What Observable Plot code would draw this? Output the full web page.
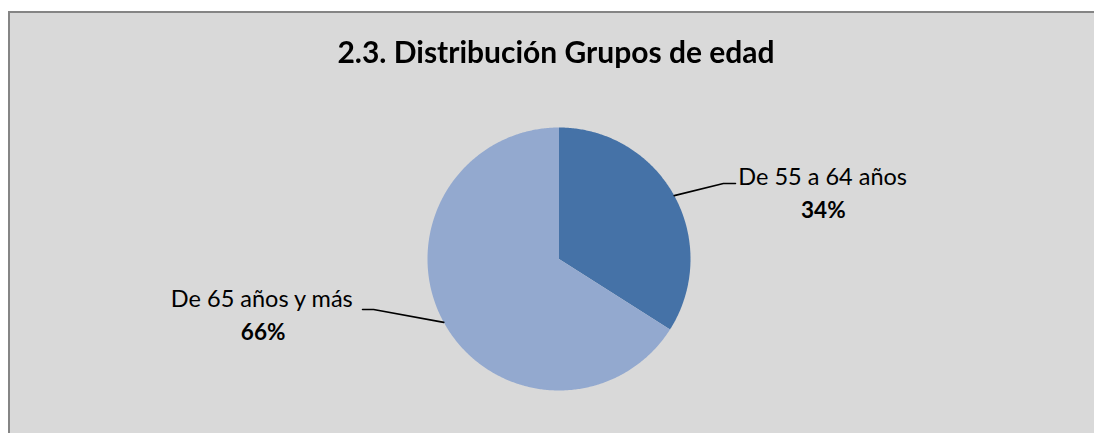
<!DOCTYPE html>
<html>
<head>
<meta charset="utf-8">
<script src="https://cdn.jsdelivr.net/npm/d3@7"></script>
<script src="https://cdn.jsdelivr.net/npm/@observablehq/plot@0.6"></script>
<style>
  html, body { margin: 0; padding: 0; background: #ffffff; overflow: hidden; scrollbar-width: none; }
  ::-webkit-scrollbar { display: none; width: 0; height: 0; }
  #frame { position: fixed; left: 8px; top: 11px; right: -20px; bottom: -20px; background: #d9d9d9;
           border-top: 2px solid #858585; border-left: 2px solid #858585; }
  #title { position: fixed; left: 0; width: 1112px; top: 33px; text-align: center;
           font-family: Lato, "Open Sans", sans-serif; font-weight: bold; font-size: 30px; color: #000; z-index: 2; }
  #chart { position: fixed; left: 0; top: 0; z-index: 1; }
</style>
</head>
<body>
<div id="frame"></div>
<div id="title">2.3. Distribución Grupos de edad</div>
<div id="chart"></div>
<script>
// ---- data ----
const categories = ["De 55 a 64 años", "De 65 años y más"];
const shares = [34, 66];
const percentLabels = ["34%", "66%"];
const colors = ["#4572A7", "#93A9CF"];

// ---- layout (label offsets in pie-radius units) ----
const labelLayout = [
  {elbow: [1.25, 0.574], end: 1.342, name: [2.005, 0.62], pct: [2.01, 0.37]},
  {elbow: [-1.41, -0.384], end: -1.494, name: [-2.26, -0.31], pct: [-2.25, -0.56]}
];

const pie = d3.pie().sort(null).value(d => d.share).startAngle(0).endAngle(2 * Math.PI);
const rows = categories.map((c, i) => ({cat: c, share: shares[i], pct: percentLabels[i]}));
const arcs = pie(rows);

// slice polygons (angle measured clockwise from 12 o'clock)
const slicePts = [];
arcs.forEach(a => {
  slicePts.push({cat: a.data.cat, x: 0, y: 0});
  const n = Math.max(2, Math.ceil((a.endAngle - a.startAngle) / 0.01));
  for (let k = 0; k <= n; k++) {
    const t = a.startAngle + (a.endAngle - a.startAngle) * k / n;
    slicePts.push({cat: a.data.cat, x: Math.sin(t), y: Math.cos(t)});
  }
});

// leader lines
const leaderPts = [];
arcs.forEach((a, i) => {
  const m = (a.startAngle + a.endAngle) / 2;
  const L = labelLayout[i];
  leaderPts.push({cat: a.data.cat, x: Math.sin(m), y: Math.cos(m)});
  leaderPts.push({cat: a.data.cat, x: L.elbow[0], y: L.elbow[1]});
  leaderPts.push({cat: a.data.cat, x: L.end, y: L.elbow[1]});
});

const nameLabels = arcs.map((a, i) => ({text: a.data.cat, x: labelLayout[i].name[0], y: labelLayout[i].name[1]}));
const pctLabels = arcs.map((a, i) => ({text: a.data.pct, x: labelLayout[i].pct[0], y: labelLayout[i].pct[1]}));

const chart = Plot.plot({
  width: 1094,
  height: 433,
  margin: 0,
  style: {background: "transparent", fontFamily: "Lato, 'Open Sans', sans-serif"},
  x: {domain: [-1, 1], range: [427, 690], axis: null},
  y: {domain: [-1, 1], range: [390, 127], axis: null},
  color: {domain: categories, range: colors},
  marks: [
    Plot.line(slicePts, {x: "x", y: "y", z: "cat", fill: "cat", stroke: null, curve: "linear-closed"}),
    Plot.line(leaderPts, {x: "x", y: "y", z: "cat", stroke: "#000", strokeWidth: 1.6}),
    Plot.text(nameLabels, {x: "x", y: "y", text: "text", fontSize: 23.5, fill: "#000", textAnchor: "middle"}),
    Plot.text(pctLabels, {x: "x", y: "y", text: "text", fontSize: 22.5, fontWeight: "bold", fill: "#000", textAnchor: "middle"})
  ]
});
document.getElementById("chart").appendChild(chart);
</script>
</body>
</html>
